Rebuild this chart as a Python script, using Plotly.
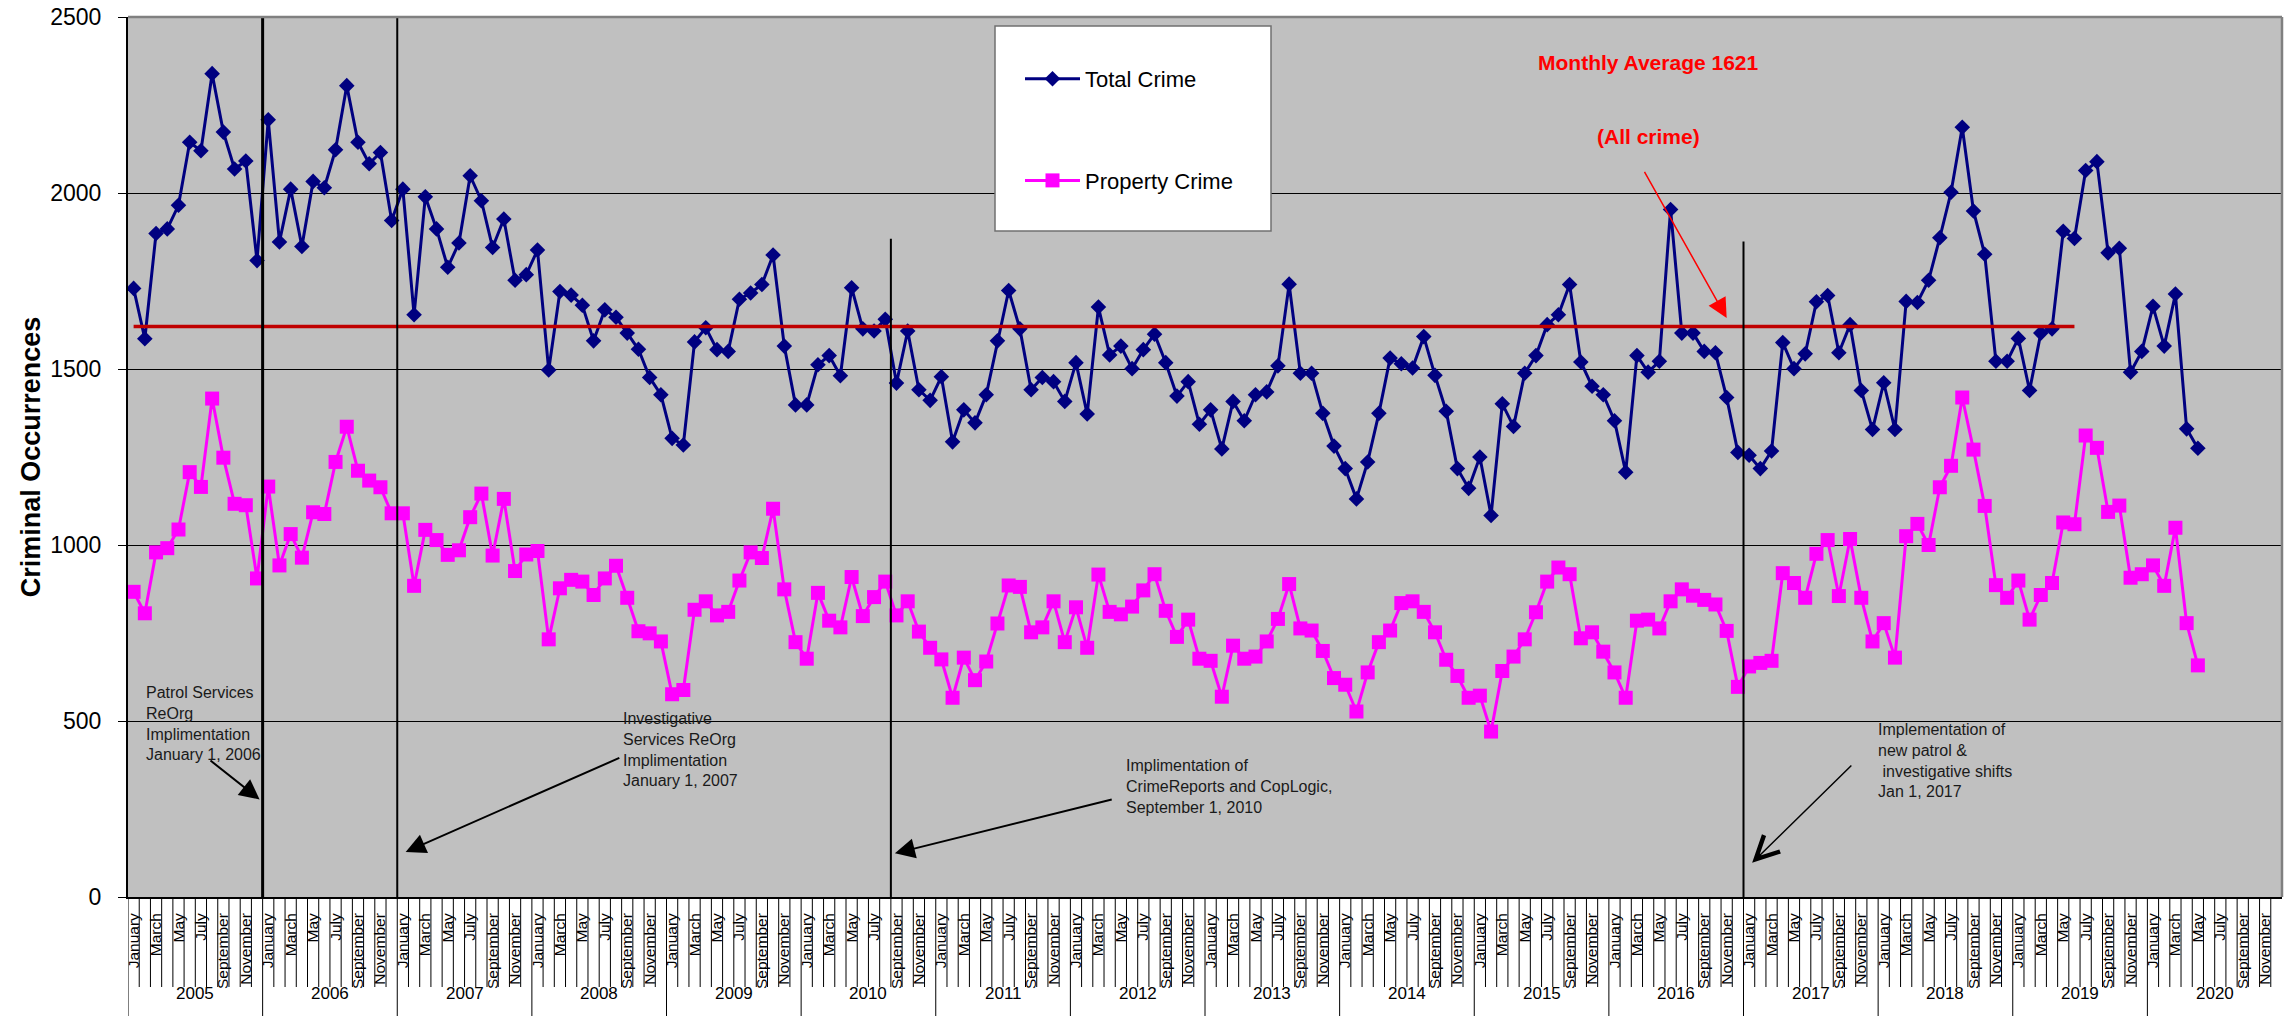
import plotly.graph_objects as go

# ---- data -------------------------------------------------------------
months = ["January", "February", "March", "April", "May", "June", "July",
          "August", "September", "October", "November", "December"]
years = list(range(2005, 2021))

# Monthly totals, January 2005 - May 2020
total_crime = [
    1729, 1586, 1885, 1898, 1965, 2144, 2120, 2339, 2173, 2068, 2091, 1808,  # 2005
    2208, 1861, 2011, 1848, 2033, 2015, 2123, 2305, 2144, 2083, 2115, 1922,  # 2006
    2011, 1654, 1989, 1898, 1789, 1858, 2049, 1978, 1845, 1926, 1752, 1768,  # 2007
    1838, 1497, 1720, 1710, 1681, 1580, 1668, 1647, 1602, 1556, 1476, 1427,  # 2008
    1303, 1284, 1577, 1617, 1555, 1550, 1698, 1716, 1740, 1824, 1565, 1398,  # 2009
    1398, 1512, 1538, 1481, 1731, 1614, 1608, 1641, 1460, 1608, 1441, 1411,  # 2010
    1478, 1293, 1384, 1347, 1427, 1580, 1723, 1614, 1441, 1476, 1464, 1408,  # 2011
    1518, 1372, 1676, 1540, 1565, 1501, 1555, 1599, 1518, 1423, 1464, 1343,  # 2012
    1384, 1273, 1408, 1353, 1427, 1435, 1509, 1741, 1488, 1488, 1374, 1281,  # 2013
    1217, 1131, 1236, 1374, 1531, 1515, 1503, 1592, 1482, 1380, 1217, 1161,  # 2014
    1250, 1084, 1401, 1337, 1488, 1538, 1626, 1654, 1740, 1520, 1451, 1427,  # 2015
    1353, 1207, 1538, 1491, 1522, 1953, 1602, 1602, 1550, 1546, 1419, 1263,  # 2016
    1255, 1217, 1267, 1575, 1501, 1543, 1691, 1709, 1546, 1626, 1439, 1328,  # 2017
    1461, 1328, 1692, 1689, 1752, 1873, 2002, 2187, 1949, 1826, 1522, 1522,  # 2018
    1587, 1439, 1602, 1614, 1891, 1871, 2064, 2089, 1830, 1843, 1491, 1550,  # 2019
    1678, 1565, 1713, 1330, 1275,                                            # 2020
]

property_crime = [
    867, 806, 979, 991, 1044, 1207, 1165, 1416, 1248, 1117, 1113, 905,       # 2005
    1166, 942, 1031, 964, 1093, 1088, 1236, 1336, 1211, 1183, 1164, 1090,    # 2006
    1090, 884, 1043, 1014, 972, 985, 1079, 1146, 970, 1131, 926, 973,        # 2007
    983, 732, 877, 901, 896, 858, 905, 941, 850, 755, 749, 726,              # 2008
    576, 588, 816, 840, 800, 810, 899, 979, 963, 1103, 874, 724,             # 2009
    677, 864, 785, 766, 909, 798, 852, 896, 800, 840, 754, 708,              # 2010
    675, 566, 680, 616, 669, 777, 885, 881, 752, 766, 840, 724,              # 2011
    823, 708, 916, 810, 803, 825, 871, 917, 813, 739, 788, 677,              # 2012
    671, 569, 714, 677, 683, 726, 790, 889, 763, 757, 699, 622,              # 2013
    603, 527, 638, 724, 757, 835, 840, 810, 752, 674, 628, 566,              # 2014
    572, 470, 642, 683, 732, 809, 896, 936, 917, 735, 752, 697,              # 2015
    638, 566, 785, 788, 763, 840, 874, 856, 844, 831, 756, 597,              # 2016
    655, 665, 671, 920, 892, 850, 975, 1014, 855, 1017, 850, 726,            # 2017
    778, 680, 1025, 1060, 1000, 1164, 1225, 1419, 1271, 1111, 886, 850,      # 2018
    899, 788, 858, 892, 1064, 1059, 1311, 1276, 1094, 1112, 907, 917,        # 2019
    942, 884, 1049, 778, 658,                                                # 2020
]

monthly_average = 1621
average_span = [("January", 2005), ("June", 2019)]

# (month, year) where each program change took effect, and how high its marker line reaches
events = [("January", 2006), ("January", 2007), ("September", 2010), ("January", 2017)]
event_tops = [2500, 2500, 1870, 1862]
event_widths = [3, 2, 2, 2]


def month_index(month, year):
    return (year - years[0]) * 12 + months.index(month)


n_slots = len(years) * 12
x_vals = list(range(len(total_crime)))

FONT = "Arial, Liberation Sans, sans-serif"
NAVY = "#000080"
MAGENTA = "#FF00FF"

fig = go.Figure()

fig.add_trace(go.Scatter(
    x=x_vals, y=total_crime, name="Total Crime", mode="lines+markers",
    line=dict(color=NAVY, width=3),
    marker=dict(symbol="diamond", size=12, color=NAVY),
    legendgroup="total",
))
fig.add_trace(go.Scatter(
    x=x_vals, y=property_crime, name="Property Crime", mode="lines+markers",
    line=dict(color=MAGENTA, width=3),
    marker=dict(symbol="square", size=14, color=MAGENTA),
    legendgroup="property",
))

avg_x = [month_index(m, y) for m, y in average_span]
fig.add_trace(go.Scatter(
    x=avg_x, y=[monthly_average] * len(avg_x), mode="lines",
    line=dict(color="#C00000", width=3.5), showlegend=False, hoverinfo="skip",
))

shapes = []

# event marker lines, at the month boundary
for (m, y), top, w in zip(events, event_tops, event_widths):
    xb = month_index(m, y) - 0.5
    shapes.append(dict(type="line", xref="x", yref="y", x0=xb, x1=xb, y0=0, y1=top,
                       line=dict(color="black", width=w), layer="above"))

# category tick marks (month row) and year dividers below the axis
month_row = -90 / 880
year_row = -119 / 880
path = ""
for k in range(n_slots):
    xb = k - 0.5
    bottom = year_row if k % 12 == 0 else month_row
    path += f"M{xb},0 L{xb},{bottom} "
shapes.append(dict(type="path", xref="x", yref="paper", path=path,
                   line=dict(color="black", width=1)))

# top / right frame of the plot area
shapes.append(dict(type="line", xref="paper", yref="paper", x0=0, x1=1, y0=1, y1=1,
                   line=dict(color="#808080", width=2.5)))
shapes.append(dict(type="line", xref="paper", yref="paper", x0=1, x1=1, y0=0, y1=1,
                   line=dict(color="#808080", width=2.5)))

# legend frame
shapes.append(dict(type="rect", xref="paper", yref="paper",
                   x0=(995 - 128) / 2154, x1=(1271 - 128) / 2154,
                   y0=(897 - 231) / 880, y1=(897 - 26) / 880,
                   fillcolor="white", line=dict(color="#707070", width=1.5), layer="above"))

annotations = []

# year labels under the month names
for i, yr in enumerate(years):
    annotations.append(dict(x=i * 12 + 5.5, y=-0.1227, xref="x", yref="paper",
                            text=str(yr), showarrow=False,
                            font=dict(family=FONT, size=17, color="black")))

note_font = dict(family=FONT, size=16, color="#1a1a1a")
notes = [
    (0.97, 493, "Patrol Services<br>ReOrg<br>Implimentation<br>January 1, 2006"),
    (43.43, 420, "Investigative<br>Services ReOrg<br>Implimentation<br>January 1, 2007"),
    (88.27, 314, "Implimentation of<br>CrimeReports and CopLogic,<br>September 1, 2010"),
    (155.35, 388, "Implementation of<br>new patrol &<br>\u00a0investigative shifts<br>Jan 1, 2017"),
]
for nx, ny, txt in notes:
    annotations.append(dict(x=nx, y=ny, xref="x", yref="y", text=txt, showarrow=False,
                            xanchor="left", yanchor="middle", align="left", font=note_font))

arrows = [
    (11.23, 277, 6.72, 391, 2, 2, 2.0, "black"),
    (24.25, 128, 43.43, 397, 2, 2, 2.0, "black"),
    (67.86, 124, 87.32, 278, 2, 2, 2.0, "black"),
    (144.27, 97, 153.25, 378, 5, 1.5, 3.0, "black"),
    (142.0, 1645, 134.6, 2064, 2, 1.5, 2.6, "red"),
]
for hx, hy, tx, ty, head, w, size, col in arrows:
    annotations.append(dict(x=hx, y=hy, ax=tx, ay=ty, xref="x", yref="y",
                            axref="x", ayref="y", text="", showarrow=True,
                            arrowhead=head, arrowwidth=w, arrowsize=size,
                            arrowcolor=col, standoff=0))

red_font = dict(family=FONT, size=21, color="red")
annotations.append(dict(x=135.0, y=2371, xref="x", yref="y", showarrow=False,
                        text=f"<b>Monthly Average {monthly_average}</b>", font=red_font))
annotations.append(dict(x=135.03, y=2161, xref="x", yref="y", showarrow=False,
                        text="<b>(All crime)</b>", font=red_font))

tick_idx = [i for i in range(n_slots) if i % 2 == 0]

fig.update_layout(
    width=2285, height=1016,
    margin=dict(l=128, r=3, t=17, b=119),
    paper_bgcolor="white",
    plot_bgcolor="#C0C0C0",
    font=dict(family=FONT, color="black"),
    shapes=shapes,
    annotations=annotations,
    showlegend=True,
    legend=dict(x=(1020 - 128) / 2154, y=(897 - 58) / 880, xanchor="left", yanchor="top",
                bgcolor="rgba(0,0,0,0)", borderwidth=0, tracegroupgap=70,
                itemwidth=55, font=dict(family=FONT, size=22, color="black")),
    xaxis=dict(
        range=[-0.5, n_slots - 0.5], showgrid=False, zeroline=False,
        showline=True, linecolor="black", linewidth=2,
        tickmode="array", tickvals=tick_idx, ticktext=[months[i % 12] for i in tick_idx],
        tickangle=-90, ticks="", ticklabelstandoff=8,
        tickfont=dict(family=FONT, size=15.5, color="black"),
    ),
    yaxis=dict(
        range=[0, 2500], dtick=500, showgrid=True, gridcolor="black", gridwidth=1,
        zeroline=False, showline=True, linecolor="black", linewidth=2,
        ticks="outside", ticklen=8, tickcolor="black", tickwidth=1,
        ticklabelstandoff=12,
        tickfont=dict(family=FONT, size=23, color="black"),
        title=dict(text="<b>Criminal Occurrences</b>", standoff=2,
                   font=dict(family=FONT, size=27, color="black")),
    ),
)

fig.write_html("out.html")
